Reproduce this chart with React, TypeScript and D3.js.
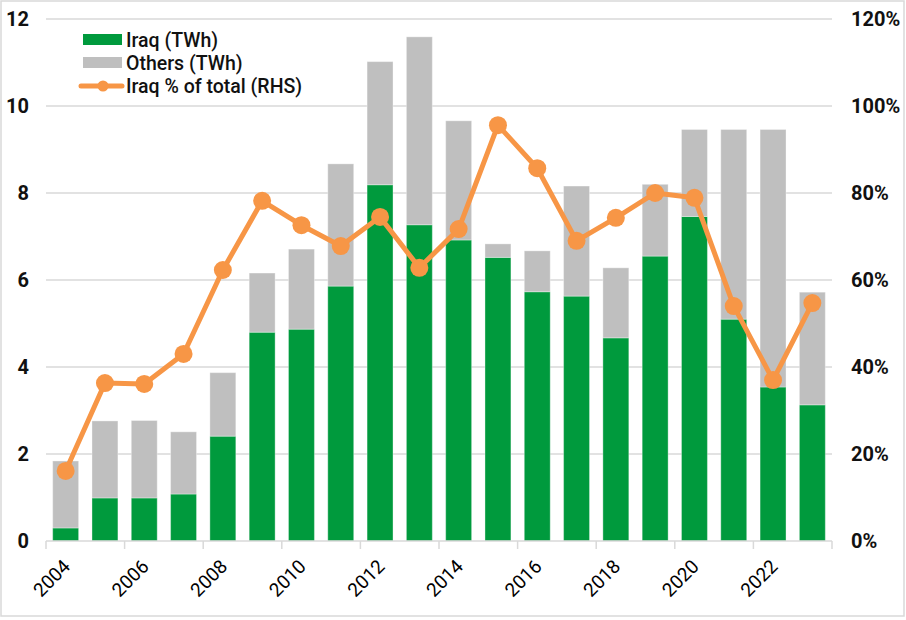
import React from 'react';
import * as d3 from 'd3';

const years = ['2004', '2005', '2006', '2007', '2008', '2009', '2010', '2011', '2012', '2013',
  '2014', '2015', '2016', '2017', '2018', '2019', '2020', '2021', '2022', '2023'];
const iraqTWh = [0.30, 0.99, 0.99, 1.08, 2.41, 4.80, 4.87, 5.86, 8.19, 7.27,
  6.92, 6.52, 5.73, 5.63, 4.67, 6.55, 7.46, 5.10, 3.54, 3.13];
const othersTWh = [1.54, 1.77, 1.78, 1.43, 1.46, 1.36, 1.84, 2.81, 2.83, 4.32,
  2.74, 0.31, 0.94, 2.53, 1.61, 1.65, 2.00, 4.36, 5.92, 2.59];
const iraqShare = [0.161, 0.363, 0.361, 0.43, 0.623, 0.782, 0.726, 0.678, 0.745, 0.628,
  0.717, 0.956, 0.857, 0.69, 0.743, 0.80, 0.789, 0.54, 0.37, 0.547];
const leftTicks = [0, 2, 4, 6, 8, 10, 12];
const rightTicks = [0, 0.2, 0.4, 0.6, 0.8, 1.0, 1.2];
const seriesNames = ['Iraq (TWh)', 'Others (TWh)', 'Iraq % of total (RHS)'];

const GREEN = '#009a3d';
const GREY = '#bfbfbf';
const ORANGE = '#f79646';
const GRID = '#d9d9d9';

export default function App() {
  const width = 906;
  const height = 620;
  const margin = { top: 19, right: 74, bottom: 79, left: 46 };

  const x = d3.scaleBand<string>()
    .domain(years)
    .range([margin.left, width - margin.right])
    .paddingInner(0.34)
    .paddingOuter(0.17);

  const y = d3.scaleLinear().domain([0, 12]).range([height - margin.bottom, margin.top]);
  const yR = d3.scaleLinear().domain([0, 1.2]).range([height - margin.bottom, margin.top]);

  const rows = years.map((yr, i) => ({ year: yr, iraq: iraqTWh[i], others: othersTWh[i] }));
  const stacked = d3.stack<{ year: string; iraq: number; others: number }>()
    .keys(['iraq', 'others'])(rows);
  const colors = [GREEN, GREY];

  const cx = (yr: string) => (x(yr) ?? 0) + x.bandwidth() / 2;
  const line = d3.line<number>()
    .x((_, i) => cx(years[i]))
    .y(d => yR(d));

  const x0 = margin.left;
  const x1 = width - margin.right;
  const y0 = y(0);
  const step = x.step();
  const tickXs = d3.range(0, years.length + 1, 2).map(i => x0 + i * step);

  const font = 'Roboto, "Noto Sans", sans-serif';

  return (
    <svg width={width} height={height} style={{ position: 'absolute', left: 0, top: 0, background: '#fff' }}
      fontFamily={font}>
      <rect x={1} y={1} width={903} height={615} fill="#fff" stroke={GRID} strokeWidth={1.5} />

      {/* gridlines */}
      {leftTicks.filter(t => t > 0).map(t => (
        <line key={t} x1={x0} x2={x1} y1={y(t)} y2={y(t)} stroke={GRID} strokeWidth={1.5} />
      ))}

      {/* bars */}
      {stacked.map((s, si) => (
        <g key={s.key} fill={colors[si]}>
          {s.map(d => (
            <rect key={d.data.year}
              x={x(d.data.year)}
              y={y(d[1])}
              width={x.bandwidth()}
              height={y(d[0]) - y(d[1])}
              stroke="#ffffff" strokeOpacity={0.35} strokeWidth={1} />
          ))}
        </g>
      ))}

      {/* x axis */}
      <line x1={x0} x2={x1} y1={y0} y2={y0} stroke={GRID} strokeWidth={1.5} />
      {tickXs.map(tx => (
        <line key={tx} x1={tx} x2={tx} y1={y0} y2={y0 + 8} stroke={GRID} strokeWidth={1.5} />
      ))}
      {years.filter((_, i) => i % 2 === 0).map(yr => (
        <text key={yr}
          transform={`translate(${cx(yr) + 1},${y0 + 22}) rotate(-45)`}
          textAnchor="end" dy="0.35em" fontSize={19} fill="#000">
          {yr}
        </text>
      ))}

      {/* left axis */}
      {leftTicks.map(t => (
        <text key={t} x={29} y={y(t)} dy="0.35em" textAnchor="end" fontSize={20} fontWeight={700} fill="#111">
          {t}
        </text>
      ))}

      {/* right axis */}
      {rightTicks.map(t => (
        <text key={t} x={851} y={yR(t)} dy="0.35em" textAnchor="start" fontSize={20} fontWeight={700} fill="#111">
          {d3.format('.0%')(t)}
        </text>
      ))}

      {/* share line */}
      <path d={line(iraqShare) ?? ''} fill="none" stroke={ORANGE} strokeWidth={5} strokeLinejoin="round" />
      {iraqShare.map((v, i) => (
        <circle key={years[i]} cx={cx(years[i])} cy={yR(v)} r={9} fill={ORANGE} />
      ))}

      {/* legend */}
      <g transform="translate(83,0)">
        <rect x={0} y={34} width={39} height={11} fill={GREEN} />
        <text x={43} y={40} dy="0.35em" fontSize={19.5} fontWeight={500} fill="#111">{seriesNames[0]}</text>
        <rect x={0} y={57} width={39} height={11} fill={GREY} />
        <text x={43} y={63} dy="0.35em" fontSize={19.5} fontWeight={500} fill="#111">{seriesNames[1]}</text>
        <line x1={-2} x2={39} y1={86} y2={86} stroke={ORANGE} strokeWidth={5} strokeLinecap="round" />
        <circle cx={20} cy={86} r={5.5} fill={ORANGE} />
        <text x={43} y={86} dy="0.35em" fontSize={19.5} fontWeight={500} fill="#111">{seriesNames[2]}</text>
      </g>
    </svg>
  );
}
